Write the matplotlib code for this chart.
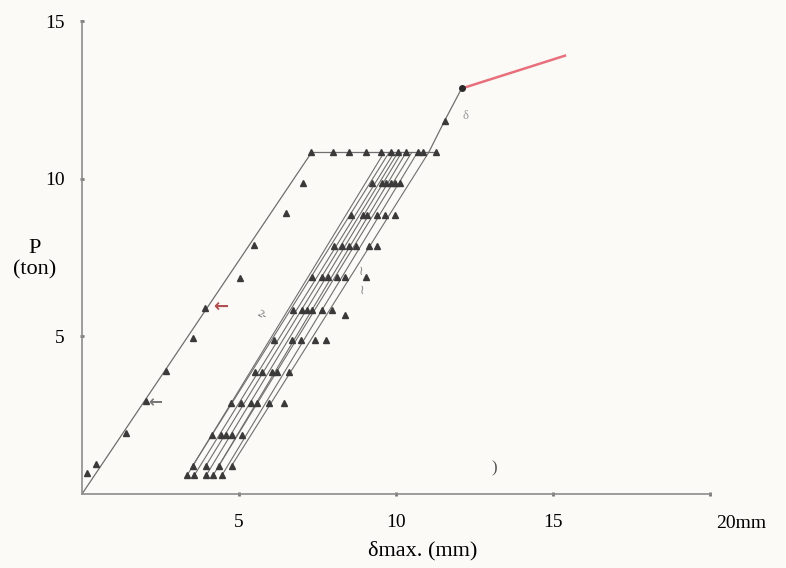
import matplotlib
matplotlib.use("Agg")
import matplotlib.pyplot as plt

# initial loading line, then the plateau at the peak load
virgin_x = [0.0, 7.31, 11.27]
virgin_p = [0.0, 10.83, 10.83]
virgin_mark_x = [0.16, 0.44, 1.39, 2.03, 2.66, 3.54, 3.92, 5.03, 5.47, 6.49, 7.03]
virgin_mark_p = [0.67, 0.95, 1.94, 2.95, 3.90, 4.95, 5.90, 6.86, 7.90, 8.92, 9.87]
plateau_mark_x = [7.28, 8.0, 8.51, 9.05, 9.53, 9.84, 10.06, 10.32, 10.70, 10.85, 11.27]
plateau_p = 10.83

# repeated unloading / reloading paths (bottom point -> top at plateau)
cycle_bottom_x = [3.35, 3.54, 3.58, 3.96, 3.96, 4.18, 4.37, 4.46, 4.78]
cycle_bottom_p = [0.60, 0.92, 0.60, 0.92, 0.60, 0.60, 0.92, 0.60, 0.92]
cycle_top_x = [9.62, 9.78, 9.94, 10.06, 10.18, 10.32, 10.50, 10.68, 11.04]

# measured points on the cycles, row by row
row_p = [0.60, 0.89, 1.87, 2.89, 3.87, 4.89, 5.84, 6.89, 7.87, 8.86, 9.87]
row_x = [
    [3.35, 3.58, 3.96, 4.18, 4.46],
    [3.54, 3.96, 4.37, 4.78],
    [4.15, 4.43, 4.59, 4.78, 5.09],
    [4.75, 5.06, 5.38, 5.57, 5.95, 6.42],
    [5.51, 5.73, 6.04, 6.20, 6.58],
    [6.11, 6.68, 6.99, 7.41, 7.78],
    [6.71, 7.0, 7.18, 7.34, 7.63, 7.97],
    [7.34, 7.63, 7.85, 8.13, 8.39, 9.05],
    [8.04, 8.29, 8.51, 8.73, 9.15, 9.40],
    [8.58, 8.96, 9.08, 9.40, 9.65, 9.97],
    [9.24, 9.56, 9.68, 9.84, 9.97, 10.13],
]
extra_x = [8.39]
extra_p = [5.68]

# beyond the plateau
post_x = [11.04, 11.55, 12.09]
post_p = [10.83, 11.84, 12.86]
final_x = [12.09, 15.38]
final_p = [12.86, 13.90]

LINE = "#6f6f6f"
MARK = "#3a3a3a"
PAPER = "#fbfaf6"

plt.rcParams["font.family"] = ["Liberation Serif", "DejaVu Serif"]

fig = plt.figure(figsize=(7.86, 5.68), dpi=100, facecolor=PAPER)
ax = fig.add_axes([82 / 786, 74 / 568, 628 / 786, 473 / 568])
ax.set_facecolor(PAPER)

ax.plot(virgin_x, virgin_p, "-", color=LINE, lw=0.9)
for xb, pb, xt in zip(cycle_bottom_x, cycle_bottom_p, cycle_top_x):
    ax.plot([xb, xt], [pb, plateau_p], "-", color=LINE, lw=0.8)
ax.plot(post_x, post_p, "-", color=LINE, lw=0.9)
ax.plot(final_x, final_p, "-", color="#e8707c", lw=1.8)

tri = dict(marker="^", ls="none", color=MARK, ms=4.5)
ax.plot(virgin_mark_x, virgin_mark_p, **tri)
ax.plot(plateau_mark_x, [plateau_p] * len(plateau_mark_x), **tri)
for p, xs in zip(row_p, row_x):
    ax.plot(xs, [p] * len(xs), **tri)
ax.plot(extra_x, extra_p, **tri)
ax.plot(post_x[1:2], post_p[1:2], **tri)
ax.plot(post_x[2:], post_p[2:], "o", color="#2a2a2a", ms=4)

# pencil notes on the sheet
ax.text(4.42, 5.92, "←", color="#b05050", fontsize=13, ha="center", va="center",
        family=["DejaVu Sans"], fontweight="bold")
ax.text(2.32, 2.90, "←", color="#777777", fontsize=12, ha="center", va="center",
        family=["DejaVu Sans"], fontweight="bold")
ax.text(5.72, 5.66, "2-", color="#666666", fontsize=8, ha="center", va="center",
        rotation=-30)
ax.text(8.88, 7.05, "≀", color="#888888", fontsize=9, ha="center", va="center",
        family=["DejaVu Sans"])
ax.text(8.92, 6.45, "≀", color="#888888", fontsize=9, ha="center", va="center",
        family=["DejaVu Sans"])
ax.text(12.2, 12.0, "δ", color="#999999", fontsize=9, ha="center", va="center")
ax.text(13.13, 0.80, ")", color="#555555", fontsize=12, ha="center", va="center")

ax.set_xlim(0, 20)
ax.set_ylim(0, 15)
for s in ("top", "right"):
    ax.spines[s].set_visible(False)
for s in ("left", "bottom"):
    ax.spines[s].set_color("#8c8c8c")
    ax.spines[s].set_linewidth(1.2)

ax.set_xticks([5, 10, 15, 20])
ax.set_xticklabels(["5", "10", "15", ""])
ax.set_yticks([5, 10, 15])
ax.tick_params(axis="both", length=2.5, width=2, color="#777777", direction="inout",
               labelsize=14)
ax.tick_params(axis="x", pad=13)
ax.tick_params(axis="y", pad=11)
ax.text(20.98, -0.93, "20mm", fontsize=14, ha="center", va="center", clip_on=False)

ax.set_xlabel("δmax. (mm)", fontsize=16, va="center")
ax.xaxis.set_label_coords(0.543, -0.12)
ax.set_ylabel("P\n(ton)", fontsize=16, rotation=0, ha="center", va="center",
              linespacing=1.15)
ax.yaxis.set_label_coords(-0.075, 0.496)

fig.savefig("out.png", dpi=100, facecolor=fig.get_facecolor())
